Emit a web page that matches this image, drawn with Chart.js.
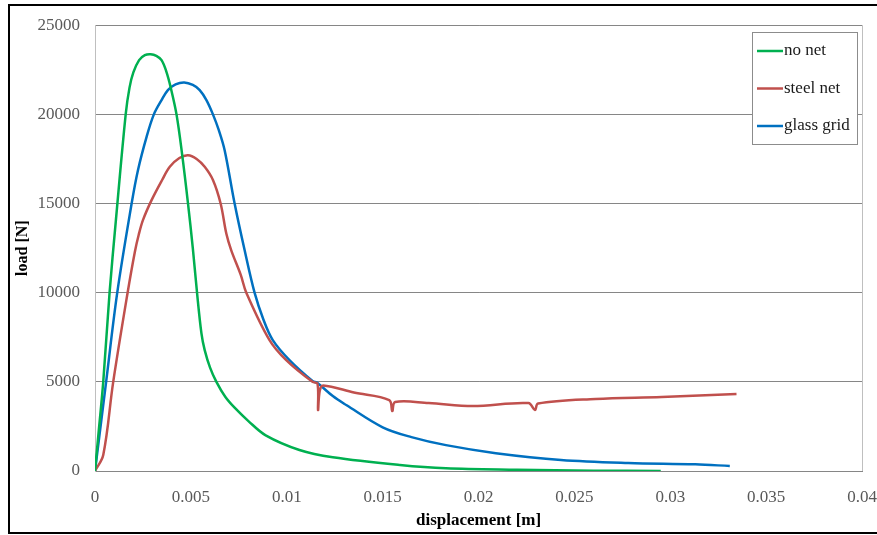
<!DOCTYPE html>
<html>
<head>
<meta charset="utf-8">
<script src="https://cdn.jsdelivr.net/npm/chart.js@4.4.1/dist/chart.umd.min.js"></script>
<style>
body { margin: 0; background: #fff; }
#wrap { position: relative; width: 877px; height: 535px; overflow: hidden; }
#frame { position: absolute; left: 8px; top: 4px; width: 900px; height: 526px; border: 2px solid #000; pointer-events: none; }
</style>
</head>
<body>
<div id="wrap">
<canvas id="chart" width="877" height="535"></canvas>
<div id="frame"></div>
</div>
<script>
// values
const no_net_x = [0, 0.0002, 0.00043, 0.00076, 0.00109, 0.0016, 0.0018, 0.002, 0.0023, 0.0026, 0.0029, 0.0032, 0.00347, 0.00372, 0.00394, 0.00425, 0.00455, 0.00485, 0.0051, 0.00532, 0.00555, 0.00572, 0.006, 0.00633, 0.0068, 0.00728, 0.008, 0.0089, 0.01066, 0.0124, 0.0159, 0.0183, 0.022, 0.026, 0.0295];
const no_net_y = [0, 2300, 5000, 10000, 14070, 20000, 21500, 22350, 23040, 23320, 23370, 23280, 23040, 22400, 21540, 20000, 17700, 15000, 12500, 10000, 7720, 6780, 5800, 5000, 4150, 3550, 2800, 2000, 1180, 770, 336, 150, 70, 20, 0];

const steel_net_x = [0, 0.00043, 0.00095, 0.0017, 0.00208, 0.00228, 0.0025, 0.00295, 0.0035, 0.0039, 0.0044, 0.00485, 0.0053, 0.00572, 0.00615, 0.00655, 0.00685, 0.0071, 0.0076, 0.00789, 0.0091, 0.00997, 0.01134, 0.0116, 0.01163, 0.01172, 0.0119, 0.0135, 0.01534, 0.0155, 0.01565, 0.0174, 0.0197, 0.0226, 0.02294, 0.0231, 0.0261, 0.02955, 0.03345];
const steel_net_y = [0, 900, 5000, 10000, 12300, 13250, 14070, 15190, 16320, 17060, 17550, 17710, 17500, 17060, 16320, 15000, 13300, 12390, 11000, 10000, 7340, 6220, 5000, 4900, 3420, 4500, 4800, 4400, 3980, 3360, 3870, 3810, 3640, 3810, 3420, 3780, 4040, 4150, 4320];

const glass_grid_x = [0, 0.00058, 0.00116, 0.00191, 0.00224, 0.00269, 0.00307, 0.00347, 0.0038, 0.0042, 0.00465, 0.0051, 0.00546, 0.00581, 0.00615, 0.00646, 0.00676, 0.00728, 0.0078, 0.00832, 0.00878, 0.00927, 0.01014, 0.01134, 0.0116, 0.0124, 0.0131, 0.015, 0.0165, 0.0183, 0.0209, 0.0243, 0.0278, 0.0313, 0.0331];
const glass_grid_y = [0, 5000, 10000, 15000, 16870, 18740, 20000, 20800, 21360, 21680, 21790, 21650, 21360, 20800, 20000, 19100, 17990, 15000, 12390, 10000, 8500, 7340, 6220, 5050, 4930, 4200, 3700, 2450, 1900, 1450, 1000, 620, 450, 375, 280];

const x_tick_labels = ["0", "0.005", "0.01", "0.015", "0.02", "0.025", "0.03", "0.035", "0.04"];
const y_tick_labels = ["0", "5000", "10000", "15000", "20000", "25000"];

const ctx = document.getElementById("chart");

function to_points(xs, ys){
    return xs.map((x, i) => ({x: x, y: ys[i]}));
}

function make_series(label, color, xs, ys){
    return {
        label: label,
        data: to_points(xs, ys),
        borderColor: color,
        backgroundColor: color,
        borderWidth: 2.5,
        pointRadius: 0,
        showLine: true,
        tension: 0.35,
    };
}

const serif = '"Liberation Serif", "Times New Roman", serif';

// right edge of the plot frame
const plot_frame = {
    id: 'plot_frame',
    beforeDatasetsDraw(chart){
        const c = chart.ctx;
        const a = chart.chartArea;
        c.save();
        c.strokeStyle = '#bfbfbf';
        c.lineWidth = 1;
        c.beginPath();
        c.moveTo(Math.round(a.right) + 0.5, a.top);
        c.lineTo(Math.round(a.right) + 0.5, a.bottom);
        c.stroke();
        c.restore();
    }
};

// legend sits inside the plot, top right
const inner_legend = {
    id: 'inner_legend',
    afterDraw(chart){
        const c = chart.ctx;
        c.save();
        c.fillStyle = '#fff';
        c.fillRect(752, 32, 105, 112);
        c.strokeStyle = '#8c8c8c';
        c.lineWidth = 1;
        c.strokeRect(752.5, 32.5, 105, 112);
        c.font = '17px ' + serif;
        c.textBaseline = 'middle';
        chart.data.datasets.forEach((ds, i) => {
            const y = 51 + i * 37.5;
            c.strokeStyle = ds.borderColor;
            c.lineWidth = 2.5;
            c.beginPath();
            c.moveTo(757, y);
            c.lineTo(783, y);
            c.stroke();
            c.fillStyle = '#1a1a1a';
            c.fillText(ds.label, 784, y);
        });
        c.restore();
    }
};

let datasets = {
    datasets: [
        make_series('no net', '#00b050', no_net_x, no_net_y),
        make_series('steel net', '#c0504d', steel_net_x, steel_net_y),
        make_series('glass grid', '#0070c0', glass_grid_x, glass_grid_y),
    ],
};

let options = {
    responsive: false,
    animation: false,
    layout: {
        padding: {left: 10, top: 25, right: 13, bottom: 0}
    },
    scales: {
        x: {
            type: 'linear',
            position: 'bottom',
            min: 0,
            max: 0.04,
            afterFit: (scale) => { scale.height = 64; },
            ticks: {
                stepSize: 0.005,
                padding: 0,
                color: '#595959',
                font: {family: serif, size: 17},
                maxRotation: 0,
                callback: (value, index) => x_tick_labels[index],
            },
            grid: {display: false, drawTicks: true, tickLength: 16},
            border: {color: '#868686'},
            title: {
                display: true,
                text: 'displacement [m]',
                color: '#000',
                font: {family: serif, size: 17, weight: 'bold'},
                padding: {top: 4, bottom: 4},
            },
        },
        y: {
            min: 0,
            max: 25000,
            afterFit: (scale) => { scale.width = 85; },
            ticks: {
                stepSize: 5000,
                padding: 15,
                color: '#595959',
                font: {family: serif, size: 17},
                callback: (value, index) => y_tick_labels[index],
            },
            grid: {color: '#868686', lineWidth: 1, drawTicks: false},
            border: {color: '#bfbfbf'},
            title: {
                display: true,
                text: 'load [N]',
                color: '#000',
                font: {family: serif, size: 16, weight: 'bold'},
                padding: {top: 3, bottom: 3},
            },
        }
    },
    plugins: {
        legend: {display: false},
        tooltip: {enabled: false},
    }
};

let chart = new Chart(ctx, {
    type: "scatter",
    data: datasets,
    options: options,
    plugins: [plot_frame, inner_legend]
});
</script>
</body>
</html>
